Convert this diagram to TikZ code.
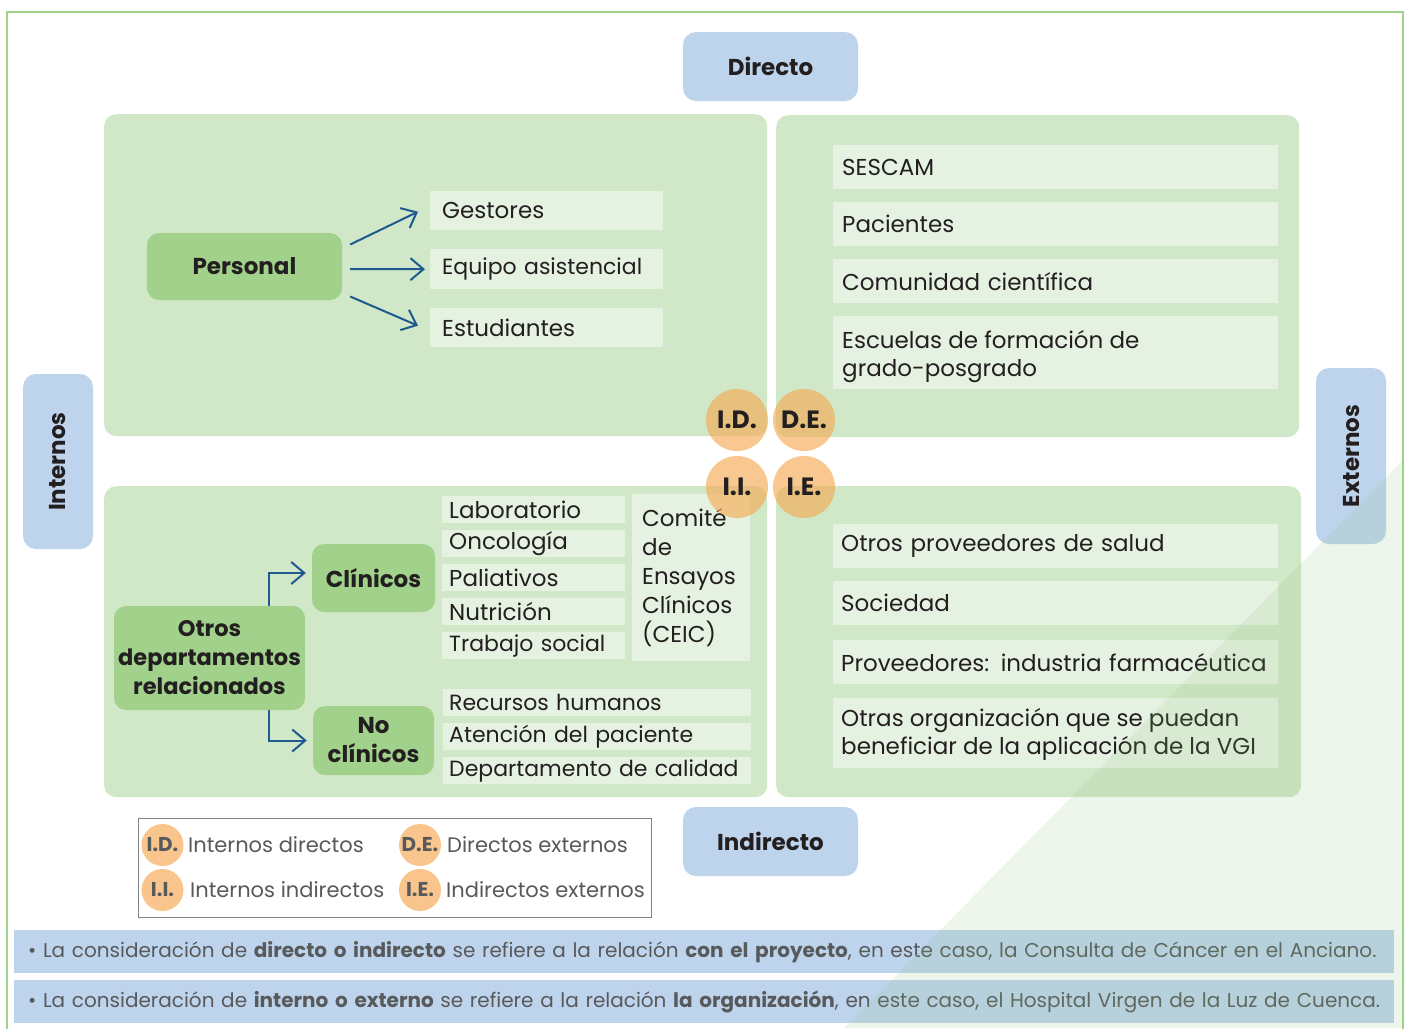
\documentclass[tikz,border=0pt]{standalone}
\usepackage{fontspec}
\setmainfont{Poppins}
\usetikzlibrary{arrows.meta,calc}
\newcommand\nohy{\hyphenpenalty=10000\relax\exhyphenpenalty=10000\relax}
\definecolor{frameg}{RGB}{160,211,138}
\definecolor{panelg}{RGB}{208,231,200}
\definecolor{nodeg}{RGB}{161,209,139}
\definecolor{itemg}{RGB}{229,241,225}
\definecolor{blueb}{RGB}{190,212,236}
\definecolor{orng}{RGB}{246,172,85}
\definecolor{legorng}{RGB}{249,197,140}
\definecolor{arrblue}{RGB}{30,90,143}
\definecolor{txt}{RGB}{35,31,32}
\definecolor{gtxt}{RGB}{88,89,91}
\definecolor{legbord}{RGB}{130,130,130}
\definecolor{overlayg}{RGB}{142,195,122}
\begin{document}
\begin{tikzpicture}[x=1pt,y=-1pt,
  panel/.style={fill=panelg, rounded corners=12pt, anchor=north west, inner sep=0pt},
  gnode/.style={fill=nodeg, rounded corners=12pt, inner sep=0pt, align=center, text=txt,
    font=\bfseries\fontsize{23}{29}\selectfont},
  bbox/.style={fill=blueb, rounded corners=13pt, inner sep=0pt, text=txt,
    font=\bfseries\fontsize{23}{29}\selectfont},
  item/.style={fill=itemg, anchor=north west, align=left, inner ysep=0pt, text=txt,
    font=\nohy\fontsize{23}{28}\selectfont},
  itemsm/.style={item, font=\nohy\fontsize{22}{28}\selectfont},
  itemtxt/.style={anchor=west, align=left, inner sep=0pt, text=txt,
    font=\nohy\fontsize{23}{28}\selectfont},
  circ/.style={circle, minimum size=62pt, inner sep=0pt, fill=orng, fill opacity=.65,
    text opacity=1, text=txt, font=\bfseries\fontsize{25}{28}\selectfont},
  lcirc/.style={circle, minimum size=42pt, inner sep=0pt, fill=legorng},
  llab/.style={text=gtxt, inner sep=0pt, font=\bfseries\fontsize{20}{24}\selectfont},
  ltxt/.style={text=gtxt, anchor=west, inner sep=0pt, font=\fontsize{21}{25}\selectfont},
  note/.style={fill=blueb, anchor=north west, align=left, inner xsep=14pt, inner ysep=0pt,
    minimum width=1380pt, minimum height=43pt, text width=1352pt, text=gtxt,
    font=\fontsize{20}{24}\selectfont},
  arr/.style={draw=arrblue, line width=2pt, -{Straight Barb[length=13pt,width=22pt,line width=2pt]}}
]
\useasboundingbox (0,0) rectangle (1407,1028);
\clip (0,0) rectangle (1407,1028);
\fill[white] (0,0) rectangle (1407,1028);
\draw[frameg, line width=1.5pt] (7,12) rectangle (1403,1045);

% panels
\node[panel, minimum width=663pt, minimum height=322pt] (ptl) at (104,114) {};
\node[panel, minimum width=523pt, minimum height=322pt] (ptr) at (776,115) {};
\node[panel, minimum width=663pt, minimum height=311pt] (pbl) at (104,486) {};
\node[panel, minimum width=525pt, minimum height=311pt] (pbr) at (776,486) {};

% axis boxes
\node[bbox, minimum width=175pt, minimum height=69pt] (dir) at (770.5,66.5) {Directo};
\node[bbox, minimum width=175pt, minimum height=69pt] (ind) at (770.5,841.5) {Indirecto};
\node[bbox, minimum width=70pt, minimum height=175pt] (int) at (58,461.5) {};
\node[rotate=90, text=txt, font=\bfseries\fontsize{23}{29}\selectfont] (intl) at (int.center) {Internos};
\node[bbox, minimum width=70pt, minimum height=176pt] (ext) at (1351,456) {};
\node[rotate=90, text=txt, font=\bfseries\fontsize{23}{29}\selectfont] (extl) at (ext.center) {Externos};

% top-left: Personal
\node[gnode, minimum width=195pt, minimum height=67pt] (pers) at (244.5,266.5) {Personal};
\node[item, inner xsep=12pt, text width=209pt, minimum height=39pt] (gest) at (430,191) {Gestores};
\node[itemsm, inner xsep=12pt, text width=209pt, minimum height=40pt] (equi) at (430,249) {Equipo asistencial};
\node[item, inner xsep=12pt, text width=209pt, minimum height=39pt] (estu) at (430,308) {Estudiantes};
\draw[arr] ($(pers.east)+(8,-22)$) -- ($(gest.west)+(-12,1)$);
\draw[arr] ($(pers.east)+(8,2.5)$) -- ($(equi.west)+(-5,0)$);
\draw[arr] ($(pers.east)+(8,30)$) -- ($(estu.west)+(-12,-2)$);

% top-right items
\node[item, inner xsep=9pt, text width=427pt, minimum height=44pt] (sesc) at (833,145) {SESCAM};
\node[item, inner xsep=9pt, text width=427pt, minimum height=44pt] (paci) at (833,202) {Pacientes};
\node[item, inner xsep=9pt, text width=427pt, minimum height=44pt] (comu) at (833,259) {Comunidad científica};
\node[item, inner sep=0pt, minimum width=445pt, minimum height=73pt] (escu) at (833,316) {};
\node[itemtxt] (escut) at ([xshift=9pt,yshift=-4pt]escu.west) {Escuelas de formación de\\grado-posgrado};

% bottom-left
\node[gnode, minimum width=191pt, minimum height=104pt, font=\bfseries\fontsize{22.5}{29}\selectfont] (otros) at (209.5,658) {Otros\\departamentos\\relacionados};
\node[gnode, minimum width=123pt, minimum height=68pt] (clin) at (373.5,578) {Clínicos};
\node[gnode, minimum width=121pt, minimum height=69pt] (nocl) at (373.5,740.5) {No\\clínicos};
\draw[arr] ([xshift=59.5pt]otros.north) |- ([xshift=-6pt,yshift=5pt]clin.west);
\draw[arr] ([xshift=59.5pt]otros.south) |- ([xshift=-6pt]nocl.west);

\node[item, inner xsep=7pt, text width=169pt, minimum height=27pt] (lab) at (442,496) {Laboratorio};
\node[item, inner xsep=7pt, text width=169pt, minimum height=27pt] (onco) at (442,530) {Oncología};
\node[item, inner xsep=7pt, text width=169pt, minimum height=27pt] (pali) at (442,564) {Paliativos};
\node[item, inner xsep=7pt, text width=169pt, minimum height=27pt] (nutr) at (442,598) {Nutrición};
\node[itemsm, inner xsep=7pt, text width=169pt, minimum height=27pt] (trab) at (442,632) {Trabajo social};
\node[item, inner xsep=10pt, text width=98pt, minimum height=167pt,
  font=\fontsize{23}{29}\selectfont] (ceic) at (632,494) {Comité\\de\\Ensayos\\Clínicos\\(CEIC)};
\node[itemsm, inner xsep=6pt, text width=296pt, minimum height=27pt] (rrhh) at (443,689) {Recursos humanos};
\node[itemsm, inner xsep=6pt, text width=296pt, minimum height=27pt] (aten) at (443,723) {Atención del paciente};
\node[itemsm, inner xsep=6pt, text width=296pt, minimum height=27pt] (calid) at (443,757) {Departamento de calidad};

% bottom-right items
\node[item, inner xsep=8pt, text width=429pt, minimum height=44pt] (otrp) at (833,524) {Otros proveedores de salud};
\node[item, inner xsep=8pt, text width=429pt, minimum height=44pt] (soci) at (833,581) {Sociedad};
\node[item, inner xsep=8pt, text width=429pt, minimum height=44pt] (prov) at (833,640) {Proveedores: industria farmacéutica};
\node[item, inner sep=0pt, minimum width=445pt, minimum height=70pt] (otra) at (833,698) {};
\node[itemtxt] (otrat) at ([xshift=8pt,yshift=-1pt]otra.west) {Otras organización que se puedan\\beneficiar de la aplicación de la VGI};

% circles
\node[circ] (cid) at (737,420) {I.D.};
\node[circ] (cde) at (804,420) {D.E.};
\node[circ] (cii) at (737,487) {I.I.};
\node[circ] (cie) at (804,487) {I.E.};

% legend
\node[draw=legbord, line width=1.2pt, anchor=north west, minimum width=513pt, minimum height=99pt, inner sep=0pt] (leg) at (138,818) {};
\node[lcirc] (lid) at (162.5,845) {};
\node[llab] at (lid) {I.D.};
\node[ltxt] (tid) at (188,845) {Internos directos};
\node[lcirc] (lii) at (162.5,890) {};
\node[llab] at (lii) {I.I.};
\node[ltxt] (tii) at (190,890) {Internos indirectos};
\node[lcirc] (lde) at (420,845) {};
\node[llab] at (lde) {D.E.};
\node[ltxt] (tde) at (447,845) {Directos externos};
\node[lcirc] (lie) at (420,890) {};
\node[llab] at (lie) {I.E.};
\node[ltxt] (tie) at (446,890) {Indirectos externos};

% notes
\node[note] (n1) at (14,930) {• La consideración de \textbf{directo o indirecto} se refiere a la relación \textbf{con el proyecto}, en este caso, la Consulta de Cáncer en el Anciano.};
\node[note] (n2) at (14,980) {• La consideración de \textbf{interno o externo} se refiere a la relación \textbf{la organización}, en este caso, el Hospital Virgen de la Luz de Cuenca.};

% translucent diagonal overlay
\fill[overlayg, fill opacity=.15] (1403,460) -- (844,1028) -- (1403,1028) -- cycle;
\end{tikzpicture}
\end{document}
